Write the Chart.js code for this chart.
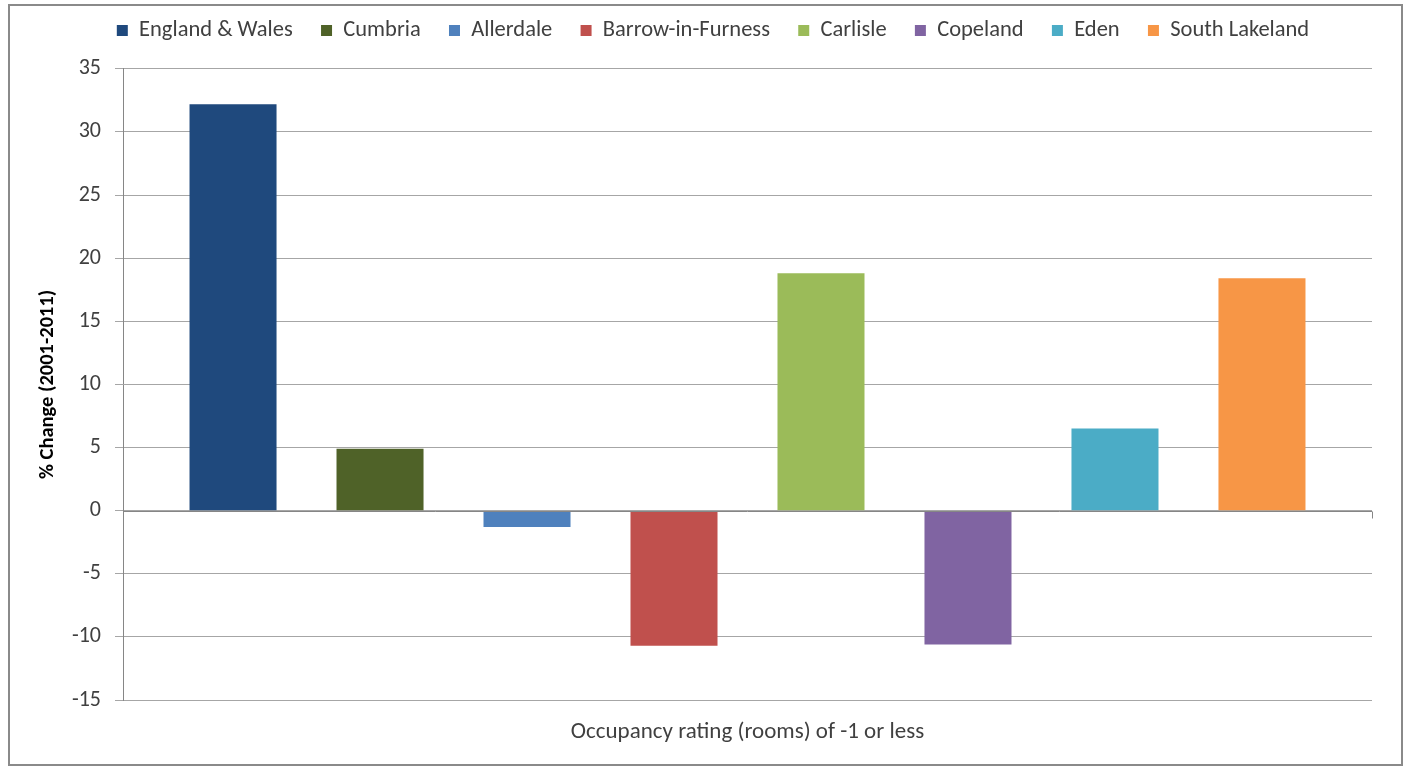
<!DOCTYPE html>
<html>
<head>
<meta charset="utf-8">
<title>Occupancy rating change 2001-2011</title>
<script src="https://cdn.jsdelivr.net/npm/chart.js@4.4.1/dist/chart.umd.min.js"></script>
<style>
  html, body { margin: 0; padding: 0; background: #fff; }
  #wrap { position: relative; width: 1408px; height: 766px; overflow: hidden; }
  #frame {
    position: absolute; left: 8px; top: 4px; width: 1395px; height: 762px;
    border: 2px solid #8a8a8a; box-sizing: border-box; pointer-events: none;
  }
  canvas { position: absolute; left: 0; top: 0; }
</style>
</head>
<body>
<div id="wrap">
  <canvas id="chart" width="1408" height="766"></canvas>
  <div id="frame"></div>
</div>
<script>
'use strict';

// ─── Data ─────────────────────────────────────────────────────────────────────

const categories = ['Occupancy rating (rooms) of -1 or less'];

const areaNames = [
  'England & Wales', 'Cumbria', 'Allerdale', 'Barrow-in-Furness',
  'Carlisle', 'Copeland', 'Eden', 'South Lakeland',
];

// % change 2001-2011, one value per area
const areaChange = [32.2, 4.9, -1.3, -10.7, 18.8, -10.6, 6.5, 18.4];

const yTicks = [35, 30, 25, 20, 15, 10, 5, 0, -5, -10, -15];

const areaColors = [
  '#1F497D', '#4F6228', '#4F81BD', '#C0504D',
  '#9BBB59', '#8064A2', '#4BACC6', '#F79646',
];

// ─── Helpers ──────────────────────────────────────────────────────────────────

const FONT = 'Calibri, Carlito, "Open Sans", sans-serif';
const TEXT = '#404040';

// nudge the legend row into place without moving the plot area
const legendShift = {
  id: 'legendShift',
  afterLayout(chart) {
    const lg = chart.legend;
    const dx = 22, dy = -17;
    lg.left += dx; lg.right += dx;
    lg.top += dy; lg.bottom += dy;
  },
};

// darker zero line, with a little tick hanging below its right end
const zeroTick = {
  id: 'zeroTick',
  afterDatasetsDraw(chart) {
    const { ctx, chartArea, scales } = chart;
    const y0 = Math.round(scales.y.getPixelForValue(0)) + 0.5;
    ctx.save();
    ctx.strokeStyle = '#868686';
    ctx.lineWidth = 1;
    ctx.beginPath();
    ctx.moveTo(chartArea.left, y0);
    ctx.lineTo(chartArea.right, y0);
    ctx.moveTo(chartArea.right + 0.5, y0);
    ctx.lineTo(chartArea.right + 0.5, y0 + 7);
    ctx.stroke();
    ctx.restore();
  },
};

// ─── Chart ────────────────────────────────────────────────────────────────────

new Chart(document.getElementById('chart'), {
  type: 'bar',
  data: {
    labels: categories,
    datasets: areaNames.map((name, i) => ({
      label: name,
      data: [areaChange[i]],
      backgroundColor: areaColors[i],
      borderWidth: 0,
      categoryPercentage: 0.9415,
      barPercentage: 0.592,
    })),
  },
  options: {
    responsive: false,
    animation: false,
    layout: { padding: { left: 10, right: 36, top: 8, bottom: 8 } },
    plugins: {
      legend: {
        position: 'top',
        labels: {
          boxWidth: 11,
          boxHeight: 11,
          padding: 28.3,
          color: TEXT,
          font: { family: FONT, size: 22.5 },
        },
      },
      tooltip: { enabled: false },
    },
    scales: {
      x: {
        grid: { display: false, drawTicks: false },
        border: { display: false },
        ticks: {
          color: TEXT,
          padding: 18,
          font: { family: FONT, size: 23 },
        },
        afterFit: (s) => { s.height = 58; },
      },
      y: {
        min: -15,
        max: 35,
        afterBuildTicks: (s) => { s.ticks = yTicks.map((v) => ({ value: v })); },
        grid: {
          color: '#a6a6a6',
          tickLength: 8,
          tickColor: '#a6a6a6',
        },
        border: { display: true, color: '#868686' },
        ticks: {
          color: TEXT,
          padding: 14,
          font: { family: FONT, size: 22 },
        },
        title: {
          display: true,
          text: '% Change (2001-2011)',
          color: '#000',
          font: { family: FONT, size: 20.5, weight: 'bold' },
          padding: { top: 26, bottom: 0 },
        },
        afterFit: (s) => { s.width = 113; },
      },
    },
  },
  plugins: [legendShift, zeroTick],
});
</script>
</body>
</html>
